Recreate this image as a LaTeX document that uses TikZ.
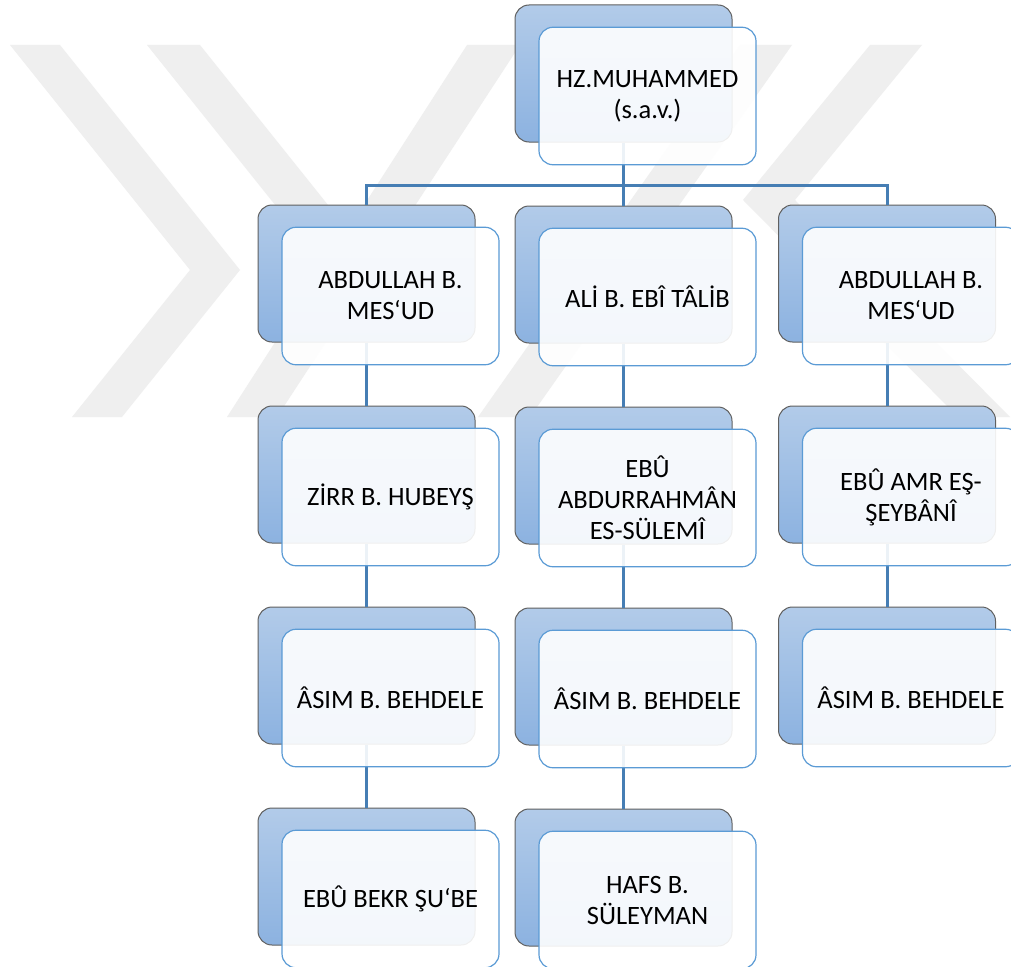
\documentclass[tikz,border=0pt]{standalone}
\usepackage{fontspec}
\setmainfont{Carlito}
\usetikzlibrary{positioning}
\definecolor{BackTop}{RGB}{178,203,233}
\definecolor{BackBot}{RGB}{140,178,224}
\definecolor{BackLine}{RGB}{96,96,96}
\definecolor{FrontLine}{RGB}{91,155,213}
\definecolor{LinkBlue}{RGB}{70,126,180}
\definecolor{MarkGray}{RGB}{239,239,239}

\begin{document}
\begin{tikzpicture}[x=1pt, y=-1pt,
    node distance=63pt,
    back/.style={rectangle, rounded corners=14pt, draw=BackLine, line width=1pt, top color=BackTop, bottom color=BackBot, minimum width=217pt, minimum height=137pt, inner sep=0pt},
    front/.style={rectangle, rounded corners=14pt, draw=FrontLine, line width=1.2pt, fill=white, fill opacity=0.9, text opacity=1, minimum width=217pt, minimum height=137.5pt, align=center, font=\fontsize{26.5}{31}\selectfont, xshift=24pt, yshift=-22.5pt},
    link/.style={draw=LinkBlue, line width=3pt},
    wmark/.style={fill=MarkGray}
]
    \useasboundingbox (0,0) rectangle (1011,966);
    \fill[white] (0,0) rectangle (1011,966);

    % faint watermark
    \fill[wmark] (10,45) -- (60,45) -- (240,270) -- (122,417) -- (72,417) -- (190,270) -- cycle;
    \fill[wmark] (147,45) -- (200,45) -- (348,230) -- (467,45) -- (520,45) -- (277,417) -- (227,417) -- (324,266) -- cycle;
    \fill[wmark] (740,45) -- (792,45) -- (530,417) -- (478,417) -- cycle;
    \fill[wmark] (870,45) -- (922,45) -- (795,200) -- (1010,417) -- (958,417) -- (743,200) -- cycle;

    % back boxes
    \node[back] (root) at (623.5,73.5) {};
    \node[back, below=of root] (b1) {};
    \node[back] (a1) at (366.5,273.5) {};
    \node[back] (c1) at (887,273.5) {};
    \node[back, below=of a1] (a2) {};
    \node[back, below=of a2] (a3) {};
    \node[back, below=of a3] (a4) {};
    \node[back, below=of b1] (b2) {};
    \node[back, below=of b2] (b3) {};
    \node[back, below=of b3] (b4) {};
    \node[back, below=of c1] (c2) {};
    \node[back, below=of c2] (c3) {};

    % connectors
    \coordinate (bar) at (623.5,185);
    \draw[link] (root.south) -- (bar);
    \draw[link] (a1.north) |- (bar) -| (c1.north);
    \draw[link] (bar) -- (b1.north);
    \draw[link] (a1.south) -- (a2.north);
    \draw[link] (a2.south) -- (a3.north);
    \draw[link] (a3.south) -- (a4.north);
    \draw[link] (b1.south) -- (b2.north);
    \draw[link] (b2.south) -- (b3.north);
    \draw[link] (b3.south) -- (b4.north);
    \draw[link] (c1.south) -- (c2.north);
    \draw[link] (c2.south) -- (c3.north);

    % front boxes with the names
    \node[front] (rootT) at (root.center) {HZ.MUHAMMED\\(s.a.v.)};
    \node[front] (a1T) at (a1.center) {ABDULLAH B.\\MES‘UD};
    \node[front] (b1T) at (b1.center) {ALİ B. EBÎ TÂLİB};
    \node[front] (c1T) at (c1.center) {ABDULLAH B.\\MES‘UD};
    \node[front] (a2T) at (a2.center) {ZİRR B. HUBEYŞ};
    \node[front] (b2T) at (b2.center) {EBÛ\\ABDURRAHMÂN\\ES-SÜLEMÎ};
    \node[front] (c2T) at (c2.center) {EBÛ AMR EŞ-\\ŞEYBÂNÎ};
    \node[front] (a3T) at (a3.center) {ÂSIM B. BEHDELE};
    \node[front] (b3T) at (b3.center) {ÂSIM B. BEHDELE};
    \node[front] (c3T) at (c3.center) {ÂSIM B. BEHDELE};
    \node[front] (a4T) at (a4.center) {EBÛ BEKR ŞU‘BE};
    \node[front] (b4T) at (b4.center) {HAFS B.\\SÜLEYMAN};
\end{tikzpicture}
\end{document}
